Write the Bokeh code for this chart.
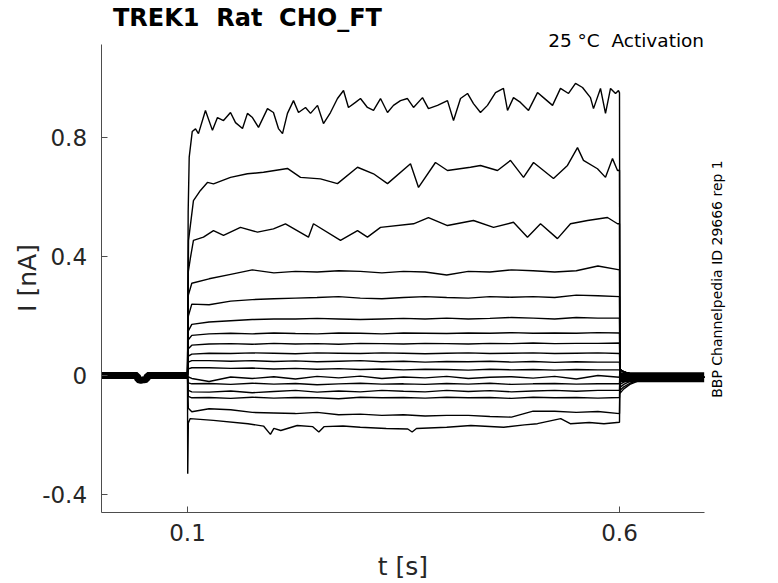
import math
from bokeh.plotting import figure
from bokeh.models import Range1d, FixedTicker, Label
from bokeh.embed import file_html
from bokeh.resources import INLINE

# ---------------- text ----------------
TITLE = "TREK1\u00a0 Rat\u00a0 CHO_FT"
SUBTITLE = "25 \u00b0C\u00a0 Activation"
SIDE_NOTE = "BBP Channelpedia ID 29666 rep 1"
X_LABEL = "t [s]"
Y_LABEL = "I [nA]"
X_TICKS = [0.1, 0.6]
X_TICK_LABELS = ["0.1", "0.6"]
Y_TICKS = [-0.4, 0.0, 0.4, 0.8]
Y_TICK_LABELS = ["-0.4", "0", "0.4", "0.8"]
X_AXIS_SPAN = (0.0, 0.698)
Y_AXIS_SPAN = (-0.4605, 1.1126)

# ---------------- data ----------------
# holding period before the step (all sweeps overlap here)
PRE_T = [0.0, 0.042, 0.0425, 0.046, 0.05, 0.053, 0.0535, 0.1]
PRE_V = [0.0, 0.0, -0.014, -0.016, -0.014, -0.013, 0.0, 0.0]

# overlapping tails after the step
BAND_T = [0.6, 0.698]
BAND_V = [-0.006, -0.006]
TAIL_T = [0.6005, 0.605, 0.612, 0.622, 0.635, 0.65, 0.698]

# sweep 1 (largest)
T1 = [0.1, 0.1008, 0.102, 0.1055, 0.1093, 0.1127, 0.1208, 0.1289, 0.1347, 0.1417,
      0.1498, 0.1556, 0.1637, 0.1694, 0.1752, 0.1822, 0.1926, 0.1995, 0.2053, 0.21,
      0.2157, 0.2227, 0.2285, 0.2366, 0.2424, 0.2505, 0.2574, 0.2655, 0.2736, 0.2806,
      0.2863, 0.2944, 0.3002, 0.3083, 0.3153, 0.3234, 0.3315, 0.3384, 0.3465, 0.3546,
      0.3616, 0.372, 0.3789, 0.3894, 0.4009, 0.4079, 0.416, 0.4241, 0.431, 0.4391,
      0.4472, 0.4565, 0.4657, 0.4704, 0.4773, 0.4854, 0.4947, 0.5051, 0.512, 0.5225,
      0.5317, 0.541, 0.5491, 0.5572, 0.5664, 0.5699, 0.578, 0.5838, 0.5896, 0.5954,
      0.5988, 0.6]
V1 = [0.0, 0.55, 0.734, 0.82, 0.829, 0.813, 0.891, 0.824, 0.867, 0.857,
      0.884, 0.85, 0.83, 0.881, 0.867, 0.834, 0.897, 0.884, 0.83, 0.813,
      0.881, 0.924, 0.884, 0.901, 0.881, 0.908, 0.847, 0.884, 0.931, 0.958,
      0.901, 0.918, 0.931, 0.901, 0.891, 0.931, 0.884, 0.908, 0.924, 0.931,
      0.901, 0.934, 0.897, 0.908, 0.924, 0.857, 0.931, 0.948, 0.914, 0.884,
      0.908, 0.951, 0.965, 0.891, 0.934, 0.918, 0.891, 0.951, 0.934, 0.908,
      0.965, 0.948, 0.982, 0.968, 0.934, 0.897, 0.965, 0.881, 0.965, 0.948,
      0.958, 0.95]
TAIL1 = [-0.06, -0.045, -0.03, -0.018, -0.01, -0.006, -0.006]

# sweep 2
T2 = [0.1, 0.1012, 0.1069, 0.115, 0.1231, 0.1301, 0.1498, 0.1694, 0.188, 0.2157,
      0.2308, 0.2539, 0.2736, 0.2968, 0.3153, 0.3315, 0.3581, 0.3674, 0.387, 0.4009,
      0.4275, 0.4391, 0.4588, 0.4738, 0.4889, 0.5005, 0.5236, 0.5398, 0.5514, 0.5583,
      0.5745, 0.5838, 0.5919, 0.5977, 0.6]
V2 = [0.0, 0.454, 0.588, 0.622, 0.649, 0.644, 0.666, 0.678, 0.683, 0.696,
      0.666, 0.661, 0.645, 0.7, 0.678, 0.645, 0.712, 0.632, 0.716, 0.689,
      0.7, 0.706, 0.689, 0.723, 0.666, 0.716, 0.662, 0.706, 0.766, 0.723,
      0.695, 0.666, 0.729, 0.689, 0.69]
TAIL2 = [-0.05, -0.038, -0.026, -0.015, -0.009, -0.006, -0.006]

# sweep 3
T3 = [0.1, 0.101, 0.1035, 0.1069, 0.1185, 0.1301, 0.1417, 0.1613, 0.181, 0.1995,
      0.2134, 0.24, 0.2458, 0.2771, 0.2968, 0.3083, 0.3234, 0.3616, 0.3789, 0.4009,
      0.431, 0.4542, 0.4773, 0.4935, 0.5086, 0.5282, 0.5433, 0.563, 0.5861, 0.5977, 0.6]
V3 = [0.0, 0.35, 0.397, 0.454, 0.465, 0.487, 0.471, 0.498, 0.482, 0.493,
      0.51, 0.465, 0.51, 0.454, 0.487, 0.465, 0.498, 0.51, 0.531, 0.504,
      0.521, 0.498, 0.515, 0.465, 0.51, 0.46, 0.51, 0.521, 0.531, 0.51, 0.51]
TAIL3 = [-0.04, -0.03, -0.02, -0.012, -0.008, -0.006, -0.006]

# sweeps 4..16 share one time grid
G = [0.1, 0.101, 0.105, 0.125, 0.15, 0.175, 0.2, 0.225, 0.25, 0.275, 0.3, 0.325,
     0.35, 0.375, 0.4, 0.425, 0.45, 0.475, 0.5, 0.525, 0.55, 0.575, 0.6]
V4 = [0.0, 0.27, 0.31, 0.325, 0.34, 0.355, 0.345, 0.35, 0.348, 0.352, 0.35, 0.345,
      0.35, 0.348, 0.338, 0.35, 0.348, 0.355, 0.352, 0.348, 0.352, 0.368, 0.355]
V5 = [0.0, 0.2, 0.24, 0.238, 0.25, 0.255, 0.258, 0.26, 0.262, 0.265, 0.26, 0.258,
      0.262, 0.265, 0.262, 0.26, 0.265, 0.263, 0.265, 0.262, 0.27, 0.268, 0.265]
V6 = [0.0, 0.15, 0.172, 0.18, 0.184, 0.188, 0.19, 0.19, 0.192, 0.19, 0.188, 0.19,
      0.192, 0.19, 0.193, 0.19, 0.192, 0.195, 0.193, 0.19, 0.195, 0.193, 0.193]
V7 = [0.0, 0.12, 0.135, 0.14, 0.142, 0.14, 0.143, 0.141, 0.14, 0.143, 0.142, 0.14,
      0.143, 0.142, 0.141, 0.143, 0.142, 0.144, 0.142, 0.143, 0.142, 0.144, 0.143]
V8 = [0.0, 0.09, 0.102, 0.106, 0.107, 0.105, 0.108, 0.106, 0.107, 0.105, 0.108, 0.107,
      0.106, 0.108, 0.107, 0.106, 0.108, 0.107, 0.109, 0.107, 0.108, 0.108, 0.109]
V9 = [0.0, 0.065, 0.072, 0.075, 0.074, 0.076, 0.075, 0.073, 0.076, 0.075, 0.074, 0.076,
      0.075, 0.073, 0.075, 0.076, 0.074, 0.075, 0.076, 0.074, 0.075, 0.076, 0.074]
V10 = [0.0, 0.045, 0.05, 0.05, 0.048, 0.05, 0.047, 0.049, 0.046, 0.048, 0.05, 0.046,
       0.048, 0.045, 0.047, 0.046, 0.048, 0.045, 0.047, 0.044, 0.046, 0.045, 0.045]
V11 = [0.0, 0.022, 0.026, 0.026, 0.024, 0.025, 0.022, 0.024, 0.021, 0.023, 0.02, 0.022,
       0.019, 0.021, 0.02, 0.018, 0.021, 0.019, 0.02, 0.018, 0.02, 0.019, 0.019]
V12 = [0.0, -0.005, -0.01, -0.02, -0.005, -0.01, -0.004, -0.012, -0.003, -0.008, -0.002, -0.01,
       -0.005, -0.008, -0.003, -0.01, -0.006, -0.004, -0.009, -0.003, -0.012, 0.0, -0.006]
V13 = [0.0, -0.025, -0.028, -0.027, -0.03, -0.026, -0.029, -0.027, -0.031, -0.028, -0.026, -0.029,
       -0.028, -0.03, -0.027, -0.029, -0.026, -0.03, -0.028, -0.027, -0.029, -0.028, -0.028]
V14 = [0.0, -0.05, -0.055, -0.056, -0.052, -0.058, -0.054, -0.05, -0.056, -0.052, -0.055, -0.05,
       -0.053, -0.055, -0.05, -0.054, -0.051, -0.055, -0.052, -0.05, -0.053, -0.05, -0.05]
V15 = [0.0, -0.07, -0.075, -0.074, -0.077, -0.073, -0.076, -0.074, -0.075, -0.078, -0.073, -0.075,
       -0.074, -0.076, -0.073, -0.075, -0.074, -0.077, -0.073, -0.075, -0.074, -0.076, -0.074]
V16 = [0.0, -0.11, -0.122, -0.112, -0.115, -0.124, -0.126, -0.128, -0.124, -0.132, -0.13, -0.134,
       -0.132, -0.136, -0.134, -0.134, -0.138, -0.14, -0.12, -0.12, -0.124, -0.121, -0.128]
TAIL_UP = [-0.012, -0.01, -0.008, -0.007, -0.006, -0.006, -0.006]
TAIL_MID = [0.005, 0.0, -0.003, -0.005, -0.006, -0.006, -0.006]
TAIL_LOW = [0.02, 0.012, 0.006, 0.0, -0.004, -0.006, -0.006]
TAIL4 = [-0.03, -0.022, -0.015, -0.01, -0.007, -0.006, -0.006]
TAIL5 = [-0.02, -0.015, -0.01, -0.008, -0.006, -0.006, -0.006]

# sweep 17 (most negative, carries the capacitive spike)
T17 = [0.1, 0.1003, 0.101, 0.103, 0.13, 0.17, 0.188, 0.196, 0.2, 0.208, 0.227, 0.245,
       0.252, 0.258, 0.28, 0.3, 0.33, 0.355, 0.36, 0.365, 0.4, 0.428, 0.466, 0.49,
       0.505, 0.532, 0.543, 0.565, 0.582, 0.6]
V17 = [0.0, -0.33, -0.16, -0.145, -0.151, -0.162, -0.17, -0.198, -0.178, -0.185, -0.168, -0.172,
       -0.19, -0.172, -0.17, -0.174, -0.178, -0.18, -0.19, -0.178, -0.174, -0.168, -0.174, -0.166,
       -0.162, -0.145, -0.162, -0.158, -0.162, -0.157]

SWEEPS = [
    (T1, V1, TAIL1), (T2, V2, TAIL2), (T3, V3, TAIL3),
    (G, V4, TAIL4), (G, V5, TAIL5), (G, V6, TAIL_UP), (G, V7, TAIL_MID),
    (G, V8, TAIL_MID), (G, V9, TAIL_MID), (G, V10, TAIL_MID), (G, V11, TAIL_MID),
    (G, V12, TAIL_LOW), (G, V13, TAIL_LOW), (G, V14, TAIL_LOW), (G, V15, TAIL_LOW),
    (G, V16, TAIL_LOW), (T17, V17, TAIL_LOW),
]

# ---------------- figure ----------------
# The frame covers the whole canvas so that titles/labels drawn as Label
# annotations are not clipped; the axes sit at fixed data locations and
# their lines are bounded to the data span.
FONT = "DejaVu Sans"
p = figure(frame_width=776, frame_height=580,
           min_border_left=0, min_border_right=0, min_border_top=0, min_border_bottom=0,
           x_range=Range1d(-0.1164, 0.7817), y_range=Range1d(-0.6891, 1.2605),
           output_backend="svg", toolbar_location=None)
p.outline_line_color = None
p.grid.visible = False
p.background_fill_color = "white"
p.border_fill_color = "white"

# thick bands where many noisy sweeps overlap
p.line(PRE_T, PRE_V, line_color="black", line_width=7)
p.line(BAND_T, BAND_V, line_color="black", line_width=10)

for t, v, tail in SWEEPS:
    p.line(list(t) + TAIL_T, list(v) + tail, line_color="black", line_width=1.4)

for ax in (p.xaxis[0], p.yaxis[0]):
    ax.axis_line_color = "#4d4d4d"
    ax.axis_line_width = 1
    ax.major_tick_line_color = "#4d4d4d"
    ax.major_tick_in = 6
    ax.major_tick_out = 0
    ax.minor_tick_line_color = None
    ax.major_label_text_font = FONT
    ax.major_label_text_font_size = "23px"
    ax.major_label_text_color = "#262626"

p.xaxis.ticker = FixedTicker(ticks=X_TICKS)
p.xaxis.major_label_overrides = dict(zip(X_TICKS, X_TICK_LABELS))
p.xaxis.bounds = X_AXIS_SPAN
p.xaxis.fixed_location = Y_AXIS_SPAN[0]
p.xaxis.major_label_standoff = 12

p.yaxis.ticker = FixedTicker(ticks=Y_TICKS)
p.yaxis.major_label_overrides = dict(zip(Y_TICKS, Y_TICK_LABELS))
p.yaxis.bounds = Y_AXIS_SPAN
p.yaxis.fixed_location = X_AXIS_SPAN[0]
p.yaxis.major_label_standoff = 14

# axis titles
p.add_layout(Label(x=0.3494, y=-0.6408, text=X_LABEL, text_font=FONT, text_font_size="25px",
                   text_color="#262626", text_align="center", text_baseline="alphabetic"))
p.add_layout(Label(x=-0.0849, y=0.3277, text=Y_LABEL, text_font=FONT, text_font_size="25px",
                   text_color="#262626", angle=math.pi / 2, text_align="center",
                   text_baseline="alphabetic"))

# titles and notes
p.add_layout(Label(x=0.0138, y=1.2000, text=TITLE, text_font=FONT, text_font_size="24px",
                   text_font_style="bold", text_color="black", text_baseline="alphabetic"))
p.add_layout(Label(x=0.6979, y=1.1248, text=SUBTITLE, text_font=FONT, text_font_size="18.5px",
                   text_color="black", text_align="right", text_baseline="alphabetic"))
p.add_layout(Label(x=0.7134, y=0.3244, text=SIDE_NOTE, text_font=FONT, text_font_size="14px",
                   text_color="black", angle=math.pi / 2, text_align="center",
                   text_baseline="middle"))

open("out.html", "w").write(file_html(p, INLINE))
